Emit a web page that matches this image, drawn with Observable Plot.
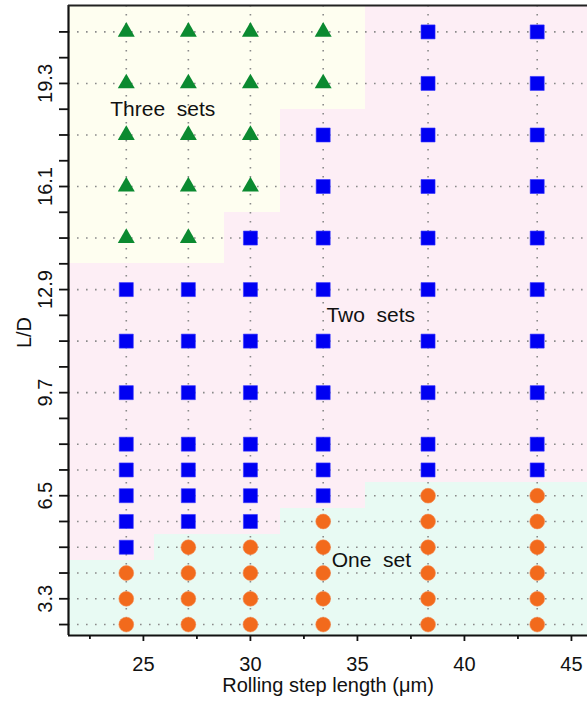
<!DOCTYPE html>
<html><head><meta charset="utf-8">
<script src="https://cdn.jsdelivr.net/npm/d3@7"></script>
<script src="https://cdn.jsdelivr.net/npm/@observablehq/plot@0.6"></script>
<style>body{margin:0;background:#fff} svg{display:block}</style>
</head><body><div id="chart"></div>
<script>
// Columns: rolling step length (µm)
const stepLengths = [24.2, 27.1, 30.0, 33.4, 38.3, 43.4];
// Rows: L/D values
const ldValues = [2.5, 3.3, 4.1, 4.9, 5.7, 6.5, 7.3, 8.1, 9.7, 11.3, 12.9, 14.5, 16.1, 17.7, 19.3, 20.9];
// Number of sets at each L/D (bottom to top) for each step length
const sets_24_2 = [1,1,1,2,2,2,2,2,2,2,2,3,3,3,3,3];
const sets_27_1 = [1,1,1,1,2,2,2,2,2,2,2,3,3,3,3,3];
const sets_30_0 = [1,1,1,1,2,2,2,2,2,2,2,2,3,3,3,3];
const sets_33_4 = [1,1,1,1,1,2,2,2,2,2,2,2,2,2,3,3];
const sets_38_3 = [1,1,1,1,1,1,2,2,2,2,2,2,2,2,2,2];
const sets_43_4 = [1,1,1,1,1,1,2,2,2,2,2,2,2,2,2,2];
const setsByColumn = [sets_24_2, sets_27_1, sets_30_0, sets_33_4, sets_38_3, sets_43_4];
// Region boundaries between columns (µm)
const regionEdgesX = [21.5, 25.5, 28.8, 31.4, 35.4, 40.8, 45.75];
// Axes
const xDomain = [21.5, 45.75];
const yDomain = [2.16, 21.72];
const xMajorTicks = [25, 30, 35, 40, 45];
const xMinorTicks = [22.5, 27.5, 32.5, 37.5, 42.5];
const yTicks = [2.5, 3.3, 4.1, 4.9, 5.7, 6.5, 7.3, 8.1, 8.9, 9.7, 10.5, 11.3, 12.1, 12.9, 13.7, 14.5, 15.3, 16.1, 16.9, 17.7, 18.5, 19.3, 20.1, 20.9];
const yTickLabels = [3.3, 6.5, 9.7, 12.9, 16.1, 19.3];
// Region labels
const regionLabels = ["Three\u00a0\u00a0sets", "Two\u00a0\u00a0sets", "One\u00a0\u00a0set"];
const regionLabelX = [23.45, 33.55, 33.8];
const regionLabelY = [18.5, 12.1, 4.5];

const bgColors = {1: "#e8faf3", 2: "#fdeef5", 3: "#fefef0"};

const points = [];
setsByColumn.forEach((col, i) => col.forEach((s, j) => points.push({x: stepLengths[i], y: ldValues[j], sets: s})));

const regions = [];
setsByColumn.forEach((col, i) => {
  let start = 0;
  for (let j = 1; j <= col.length; j++) {
    if (j === col.length || col[j] !== col[start]) {
      const y1 = start === 0 ? yDomain[0] : (ldValues[start - 1] + ldValues[start]) / 2;
      const y2 = j === col.length ? yDomain[1] : (ldValues[j - 1] + ldValues[j]) / 2;
      regions.push({x1: regionEdgesX[i], x2: regionEdgesX[i + 1], y1, y2, sets: col[start]});
      start = j;
    }
  }
});

const labels = regionLabels.map((t, i) => ({t, x: regionLabelX[i], y: regionLabelY[i]}));
const grid = {stroke: "#8a8a8a", strokeWidth: 1.6, strokeDasharray: "1.6,7.4"};

const chart = Plot.plot({
  width: 587, height: 705,
  marginTop: 5, marginLeft: 68, marginRight: 0, marginBottom: 70,
  x: {domain: xDomain},
  y: {domain: yDomain},
  style: {fontFamily: "'Liberation Sans', Arial, sans-serif", fontSize: "20px", color: "#111", background: "#fff"},
  marks: [
    Plot.rect(regions, {x1: "x1", x2: "x2", y1: "y1", y2: "y2", fill: d => bgColors[d.sets], shapeRendering: "crispEdges"}),
    Plot.ruleY(ldValues, grid),
    Plot.ruleX(stepLengths, grid),
    Plot.dot(points.filter(d => d.sets === 3), {x: "x", y: "y", symbol: "triangle", r: 6.3, fill: "#0b8a30", stroke: "none"}),
    Plot.dot(points.filter(d => d.sets === 2), {x: "x", y: "y", symbol: "square", r: 7.9, fill: "#0000f2", stroke: "#3333ff", strokeWidth: 0.6}),
    Plot.dot(points.filter(d => d.sets === 1), {x: "x", y: "y", symbol: "circle", r: 7.4, fill: "#f26a1c", stroke: "#f58a50", strokeWidth: 0.6}),
    Plot.text(labels, {x: "x", y: "y", text: "t", textAnchor: "start", fontSize: 21, fill: "#111"}),
    Plot.ruleX([xDomain[0]], {stroke: "#111", strokeWidth: 2.2}),
    Plot.ruleY([yDomain[0]], {stroke: "#111", strokeWidth: 2.2}),
    Plot.ruleY([yDomain[1]], {stroke: "#222", strokeWidth: 2.2}),
    Plot.axisX({ticks: xMajorTicks, tickSize: 6, tickPadding: 15, fontSize: 20, strokeWidth: 1.8, label: null}),
    Plot.axisX({ticks: xMinorTicks, tickSize: 4, tickFormat: () => "", strokeWidth: 1.8, label: null}),
    Plot.axisY({ticks: yTicks, tickSize: 9, tickFormat: () => "", strokeWidth: 1.8, label: null}),
    Plot.text(yTickLabels, {y: d => d, text: d => d.toFixed(1), frameAnchor: "left", textAnchor: "middle", dx: -23, rotate: -90, fontSize: 20, fill: "#111"}),
    Plot.text(["L/D"], {frameAnchor: "left", textAnchor: "middle", dx: -44, dy: 12, rotate: -90, fontSize: 20, fill: "#111"}),
    Plot.text(["Rolling step length (μm)"], {frameAnchor: "bottom", dy: 56, fontSize: 20, fill: "#111"})
  ]
});
document.getElementById("chart").append(chart);
</script>
</body></html>
